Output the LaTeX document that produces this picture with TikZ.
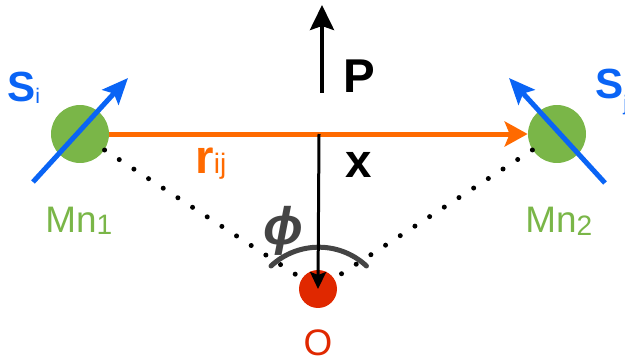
\documentclass[tikz,border=0pt]{standalone}
\usepackage{fontspec}
\setmainfont{Liberation Sans}
\usepackage{amsmath,amssymb}
\usepackage{xcolor}
\usepackage{tikz}
\usetikzlibrary{arrows.meta}
\definecolor{mngreen}{HTML}{7AB648}
\definecolor{spinblue}{HTML}{0A64F5}
\definecolor{bondorange}{HTML}{FF6A00}
\definecolor{origred}{HTML}{E02800}
\definecolor{arcgray}{HTML}{444444}
\newcommand{\fsz}[1]{\fontsize{#1}{#1}\selectfont}
\newcommand{\lowidx}[3]{\raisebox{-#2}{\fsz{#1}#3}}

\begin{document}
\begin{tikzpicture}[
  x=0.02cm, y=-0.02cm,
  atom/.style={circle, fill=mngreen, minimum size=1.16cm, inner sep=0pt},
  orig/.style={circle, fill=origred, minimum size=0.76cm, inner sep=0pt},
  spin/.style={-{Stealth[length=0.52cm,width=0.44cm,inset=0.1cm]}, line width=0.1cm, draw=spinblue},
  bond/.style={-{Stealth[length=0.46cm,width=0.5cm,inset=0.1cm]}, line width=0.1cm, draw=bondorange},
  vec/.style={-{Stealth[length=0.5cm,width=0.48cm,inset=0.08cm]}, line width=0.08cm, draw=black},
  vecx/.style={-{Stealth[length=0.34cm,width=0.32cm,inset=0.06cm]}, line width=0.06cm, draw=black},
  dots/.style={line width=0.1cm, line cap=round, dash pattern=on 0pt off 0.35cm},
  lbl/.style={inner sep=0pt, anchor=base west},
]
\useasboundingbox (0,0) rectangle (625,358);
% ions and origin
\node[atom] (mn1) at (80,134) {};
\node[atom] (mn2) at (557,134) {};
\node[orig] (o)   at (318,289) {};
% dotted lines to O
\draw[dots] (mn1) -- (o);
\draw[dots] (mn2) -- (o);
% angle phi
\coordinate (arcl) at (271,266);
\draw[arcgray, line width=0.1cm, line cap=round] (arcl) arc[start angle=133, end angle=47, radius=1.4cm];
\node[text=arcgray, inner sep=0pt] (phi) at (283,231) {\fsz{30pt}\bfseries\itshape ϕ};
% bond vector r_ij
\draw[bond] (mn1) -- (mn2);
\node[lbl, text=bondorange] (rij) at (195,173) {\fsz{27pt}\bfseries r\lowidx{16pt}{0pt}{\mdseries ij}};
% spins
\coordinate (sitail) at (33,182);
\coordinate (sihead) at (128,78);
\coordinate (sjtail) at (605,183);
\coordinate (sjhead) at (509,78);
\draw[spin] (sitail) -- (sihead);
\draw[spin] (sjtail) -- (sjhead);
\node[lbl, text=spinblue] (si) at (7,102) {\fsz{24pt}\bfseries S\lowidx{12pt}{0.04em}{\mdseries i}};
\node[lbl, text=spinblue] (sj) at (595,98) {\fsz{24pt}\bfseries S\lowidx{12pt}{0.3em}{\mdseries j}};
% polarization P and x
\coordinate (pbase) at (322,93);
\coordinate (ptip)  at (322,5);
\draw[vec] (pbase) -- (ptip);
\node[lbl] (p) at (343,92) {\fsz{27pt}\bfseries P};
\coordinate (xtop) at (319,134);
\draw[vecx] (xtop) -- (o.center);
\node[lbl] (x) at (345,177) {\fsz{27pt}\bfseries x};
% labels
\node[lbl, text=mngreen] (mn1lbl) at (45,232) {\fsz{21pt}Mn\lowidx{16pt}{0.06em}{1}};
\node[lbl, text=mngreen] (mn2lbl) at (525,232) {\fsz{21pt}Mn\lowidx{16pt}{0.1em}{2}};
\node[text=origred, inner sep=0pt, anchor=base] (olbl) at (318,355) {\fsz{21pt}O};
\end{tikzpicture}
\end{document}
